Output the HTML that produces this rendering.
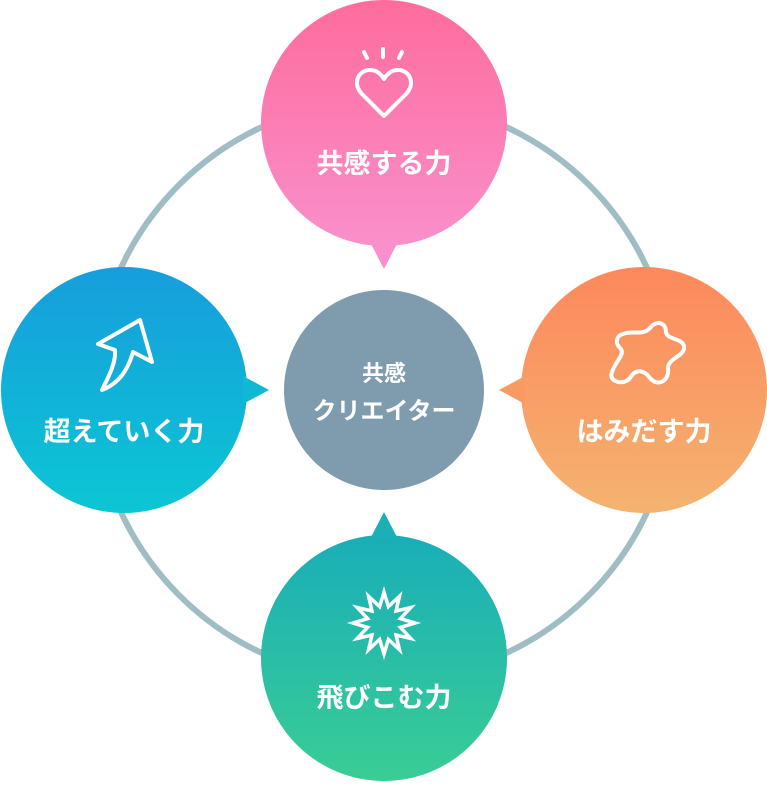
<!DOCTYPE html>
<html><head><meta charset="utf-8"><style>
html,body{margin:0;padding:0;background:#fff;}
svg text{font-family:"Liberation Sans","Noto Sans CJK JP",sans-serif;font-weight:bold;fill:#fff;text-anchor:middle;}
</style></head><body>
<svg width="767" height="782" viewBox="0 0 767 782" xmlns="http://www.w3.org/2000/svg">
<defs>
<linearGradient id="gt" x1="0" y1="0" x2="0" y2="1"><stop offset="0" stop-color="#fe6c9c"/><stop offset="1" stop-color="#f98fcb"/></linearGradient>
<linearGradient id="gr" x1="0" y1="0" x2="0" y2="1"><stop offset="0" stop-color="#fd885c"/><stop offset="1" stop-color="#f4b370"/></linearGradient>
<linearGradient id="gb" x1="0" y1="0" x2="0" y2="1"><stop offset="0" stop-color="#19aeb8"/><stop offset="1" stop-color="#3acd95"/></linearGradient>
<linearGradient id="gl" x1="0" y1="0" x2="0" y2="1"><stop offset="0" stop-color="#179ddc"/><stop offset="1" stop-color="#0cc6d4"/></linearGradient>
</defs>
<circle cx="384" cy="390" r="290" fill="none" stroke="#a0bdc5" stroke-width="6"/>
<circle cx="384" cy="390" r="100" fill="#7f9cae"/>
<text x="384" y="381" font-size="22">共感</text>
<text x="384" y="419" font-size="24">クリエイター</text>
<!-- top -->
<circle cx="384" cy="123" r="123" fill="url(#gt)"/>
<polygon points="370,242 398,242 384,269" fill="#f98fcb"/>
<text x="384" y="173" font-size="27">共感する力</text>
<path d="M384 116 L362 94 C352 84 358 70 370 70 C377 70 381 74 384 79 C387 74 391 70 398 70 C410 70 416 84 406 94 Z" fill="none" stroke="#fff" stroke-width="4" stroke-linejoin="round"/>
<g stroke="#fff" stroke-width="4" stroke-linecap="round"><line x1="364" y1="52" x2="367" y2="58"/><line x1="383" y1="49" x2="383" y2="57"/><line x1="402" y1="52" x2="399" y2="58"/></g>
<!-- right -->
<circle cx="644" cy="390" r="123" fill="url(#gr)"/>
<polygon points="525,376 525,404 499,390" fill="#f99a63"/>
<text x="644" y="441" font-size="27">はみだす力</text>
<path d="M623 334 C632 330 643 336 650 328 C656 320 666 322 666 332 C667 340 682 338 684 346 C686 356 668 358 668 368 C670 380 658 388 650 378 C644 370 636 368 630 378 C624 386 608 382 612 372 C616 360 626 354 620 348 C615 343 616 336 623 334 Z" fill="none" stroke="#fff" stroke-width="4" stroke-linejoin="round"/>
<!-- bottom -->
<circle cx="384" cy="658" r="123" fill="url(#gb)"/>
<polygon points="370,539 398,539 384,512" fill="#1bb0b6"/>
<text x="384" y="707" font-size="27">飛びこむ力</text>
<polygon id="star" fill="none" stroke="#fff" stroke-width="3.5" stroke-linejoin="miter" points=""/>
<!-- left -->
<circle cx="124" cy="390" r="123" fill="url(#gl)"/>
<polygon points="243,376 243,404 269,390" fill="#0fb9d6"/>
<text x="124" y="441" font-size="27">超えていく力</text>
<path d="M140 320 L152 362 L133 352 C128 370 118 384 102 390 C110 374 116 362 115 350 L98 344 Z" fill="none" stroke="#fff" stroke-width="4" stroke-linejoin="round"/>
</svg>
<script>
var p=[],cx=384,cy=623,n=12;
for(var i=0;i<n*2;i++){var r=i%2?17:31,a=Math.PI*i/n-Math.PI/2;p.push((cx+r*Math.cos(a)).toFixed(1)+","+(cy+r*Math.sin(a)).toFixed(1));}
document.getElementById("star").setAttribute("points",p.join(" "));
</script>
</body></html>
